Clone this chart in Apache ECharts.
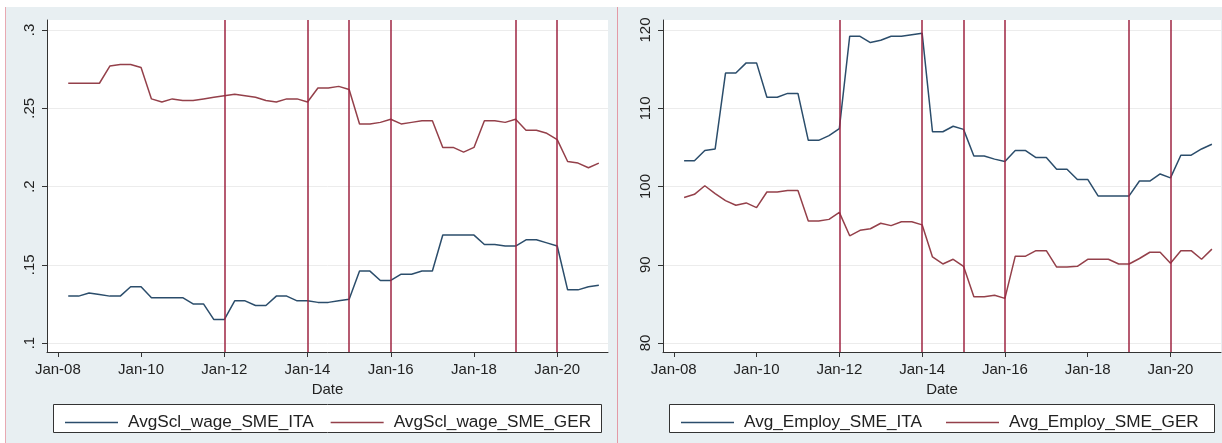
<!DOCTYPE html>
<html>
<head>
<meta charset="utf-8">
<script src="https://cdn.jsdelivr.net/npm/echarts@6/dist/echarts.min.js"></script>
<style>
  html, body { margin: 0; padding: 0; background: #fff; }
  #chart { width: 1222px; height: 443px; }
</style>
</head>
<body>
<div id="chart"></div>
<script>
// quarterly observations, Apr 2008 .. Jan 2021
const quarters = [
  '2008-04', '2008-07', '2008-10',
  '2009-01', '2009-04', '2009-07', '2009-10',
  '2010-01', '2010-04', '2010-07', '2010-10',
  '2011-01', '2011-04', '2011-07', '2011-10',
  '2012-01', '2012-04', '2012-07', '2012-10',
  '2013-01', '2013-04', '2013-07', '2013-10',
  '2014-01', '2014-04', '2014-07', '2014-10',
  '2015-01', '2015-04', '2015-07', '2015-10',
  '2016-01', '2016-04', '2016-07', '2016-10',
  '2017-01', '2017-04', '2017-07', '2017-10',
  '2018-01', '2018-04', '2018-07', '2018-10',
  '2019-01', '2019-04', '2019-07', '2019-10',
  '2020-01', '2020-04', '2020-07', '2020-10',
  '2021-01'
];

const wageITA = [
  0.130, 0.130, 0.132, 0.131, 0.130, 0.130, 0.136, 0.136, 0.129, 0.129, 0.129, 0.129, 0.125,
  0.125, 0.115, 0.115, 0.127, 0.127, 0.124, 0.124, 0.130, 0.130, 0.127, 0.127, 0.126, 0.126,
  0.127, 0.128, 0.146, 0.146, 0.140, 0.140, 0.144, 0.144, 0.146, 0.146, 0.169, 0.169, 0.169,
  0.169, 0.163, 0.163, 0.162, 0.162, 0.166, 0.166, 0.164, 0.162, 0.134, 0.134, 0.136, 0.137
];
const wageGER = [
  0.266, 0.266, 0.266, 0.266, 0.277, 0.278, 0.278, 0.276, 0.256, 0.254, 0.256, 0.255, 0.255,
  0.256, 0.257, 0.258, 0.259, 0.258, 0.257, 0.255, 0.254, 0.256, 0.256, 0.254, 0.263, 0.263,
  0.264, 0.262, 0.240, 0.240, 0.241, 0.243, 0.240, 0.241, 0.242, 0.242, 0.225, 0.225, 0.222,
  0.225, 0.242, 0.242, 0.241, 0.243, 0.236, 0.236, 0.234, 0.230, 0.216, 0.215, 0.212, 0.215
];
const employITA = [
  103.3, 103.3, 104.6, 104.8, 114.5, 114.5, 115.8, 115.8, 111.4, 111.4, 111.9, 111.9, 105.9,
  105.9, 106.5, 107.4, 119.2, 119.2, 118.4, 118.7, 119.2, 119.2, 119.4, 119.6, 107.0, 107.0,
  107.7, 107.3, 103.9, 103.9, 103.5, 103.2, 104.6, 104.6, 103.7, 103.7, 102.2, 102.2, 100.9,
  100.9, 98.8, 98.8, 98.8, 98.8, 100.7, 100.7, 101.6, 101.1, 104.0, 104.0, 104.8, 105.4
];
const employGER = [
  98.6, 99.0, 100.1, 99.1, 98.2, 97.6, 97.9, 97.3, 99.3, 99.3, 99.5, 99.5, 95.6,
  95.6, 95.8, 96.7, 93.7, 94.4, 94.6, 95.3, 95.0, 95.5, 95.5, 95.1, 91.0, 90.1,
  90.7, 89.8, 85.9, 85.9, 86.1, 85.7, 91.1, 91.1, 91.8, 91.8, 89.7, 89.7, 89.8,
  90.7, 90.7, 90.7, 90.1, 90.1, 90.8, 91.6, 91.6, 90.2, 91.8, 91.8, 90.7, 92.0
];

// vertical reference lines
const eventDates = ['2012-01', '2014-01', '2015-01', '2016-01', '2019-01', '2020-01'];

const xTicks = [2008, 2010, 2012, 2014, 2016, 2018, 2020];
const xTickLabels = ['Jan-08', 'Jan-10', 'Jan-12', 'Jan-14', 'Jan-16', 'Jan-18', 'Jan-20'];
const wageTicks = [0.1, 0.15, 0.2, 0.25, 0.3];
const wageTickLabels = ['.1', '.15', '.2', '.25', '.3'];
const employTicks = [80, 90, 100, 110, 120];
const employTickLabels = ['80', '90', '100', '110', '120'];

const FONT = "'Liberation Sans', Arial, sans-serif";
const NAVY = '#2b4d6b';
const MAROON = '#94404a';
const VLINE = '#9e2442';
const AXIS = '#333';

function toYear(s) {
  const p = s.split('-');
  return +p[0] + (+p[1] - 1) / 12;
}
const xs = quarters.map(toYear);
const pairs = vals => vals.map((v, i) => [xs[i], v]);

function xAxisFor(gridIndex) {
  return {
    type: 'value', gridIndex: gridIndex, min: 2007.74, max: 2021.22,
    name: 'Date', nameLocation: 'middle', nameGap: 23,
    nameTextStyle: { fontFamily: FONT, fontSize: 15, color: '#222' },
    axisLine: { show: true, lineStyle: { color: AXIS, width: 1 } },
    axisTick: { show: true, length: 5, customValues: xTicks, lineStyle: { color: AXIS } },
    axisLabel: {
      customValues: xTicks, margin: 10,
      fontFamily: FONT, fontSize: 15, color: '#222',
      formatter: v => xTickLabels[xTicks.indexOf(Math.round(v))]
    },
    splitLine: { show: false }
  };
}

function yAxisFor(gridIndex, min, max, ticks, labels) {
  return {
    type: 'value', gridIndex: gridIndex, min: min, max: max,
    axisLine: { show: true, lineStyle: { color: AXIS, width: 1 } },
    axisTick: { show: true, length: 5, customValues: ticks, lineStyle: { color: AXIS } },
    axisLabel: {
      customValues: ticks, rotate: 90, margin: 10,
      fontFamily: FONT, fontSize: 15, color: '#222',
      formatter: v => {
        const i = ticks.findIndex(t => Math.abs(t - v) < 1e-6);
        return i >= 0 ? labels[i] : '';
      }
    },
    splitLine: { show: true, lineStyle: { color: '#ececec', width: 1 } }
  };
}

const eventMarks = {
  silent: true,
  symbol: ['none', 'none'],
  label: { show: false },
  lineStyle: { color: VLINE, width: 1.5, type: 'solid' },
  data: eventDates.map(d => ({ xAxis: toYear(d) }))
};

function lineSeries(name, color, data, axisIndex, marks) {
  const s = {
    name: name, type: 'line', xAxisIndex: axisIndex, yAxisIndex: axisIndex,
    data: data, symbol: 'none', showSymbol: false,
    lineStyle: { color: color, width: 1.5 }, itemStyle: { color: color }
  };
  if (marks) s.markLine = marks;
  return s;
}

const legendBase = {
  orient: 'horizontal', icon: 'rect', itemWidth: 53, itemHeight: 1.5,
  selectedMode: false,
  textStyle: { fontFamily: FONT, fontSize: 17.2, color: '#222', padding: [0, 0, 0, 5] }
};

const chart = echarts.init(document.getElementById('chart'), null, { renderer: 'canvas' });

chart.setOption({
  animation: false,
  backgroundColor: '#fff',
  graphic: [
    { type: 'rect', shape: { x: 5, y: 7, width: 612, height: 436 }, style: { fill: '#e8eff2' }, z: -10 },
    { type: 'rect', shape: { x: 618, y: 7, width: 604, height: 436 }, style: { fill: '#e8eff2' }, z: -10 },
    { type: 'line', shape: { x1: 5.5, y1: 7, x2: 5.5, y2: 443 }, style: { stroke: '#e8a9b2', lineWidth: 1 }, z: -5 },
    { type: 'line', shape: { x1: 617.5, y1: 7, x2: 617.5, y2: 443 }, style: { stroke: '#e39aa6', lineWidth: 1 }, z: -5 },
    { type: 'rect', shape: { x: 53.5, y: 404.5, width: 548, height: 28 }, style: { fill: '#fff', stroke: '#333', lineWidth: 1 }, z: -1 },
    { type: 'rect', shape: { x: 669.5, y: 404.5, width: 545, height: 28 }, style: { fill: '#fff', stroke: '#333', lineWidth: 1 }, z: -1 }
  ],
  grid: [
    { left: 47, top: 20, width: 561, height: 332, show: true, backgroundColor: '#fff', borderWidth: 0 },
    { left: 663, top: 20, width: 558, height: 332, show: true, backgroundColor: '#fff', borderWidth: 0 }
  ],
  xAxis: [xAxisFor(0), xAxisFor(1)],
  yAxis: [
    yAxisFor(0, 0.0943, 0.3064, wageTicks, wageTickLabels),
    yAxisFor(1, 78.85, 121.28, employTicks, employTickLabels)
  ],
  legend: [
    Object.assign({}, legendBase, {
      left: 60, top: 409, itemGap: 17,
      data: ['AvgScl_wage_SME_ITA', 'AvgScl_wage_SME_GER']
    }),
    Object.assign({}, legendBase, {
      left: 676, top: 409, itemGap: 24,
      data: ['Avg_Employ_SME_ITA', 'Avg_Employ_SME_GER']
    })
  ],
  series: [
    lineSeries('AvgScl_wage_SME_ITA', NAVY, pairs(wageITA), 0, eventMarks),
    lineSeries('AvgScl_wage_SME_GER', MAROON, pairs(wageGER), 0),
    lineSeries('Avg_Employ_SME_ITA', NAVY, pairs(employITA), 1, eventMarks),
    lineSeries('Avg_Employ_SME_GER', MAROON, pairs(employGER), 1)
  ]
});
</script>
</body>
</html>
